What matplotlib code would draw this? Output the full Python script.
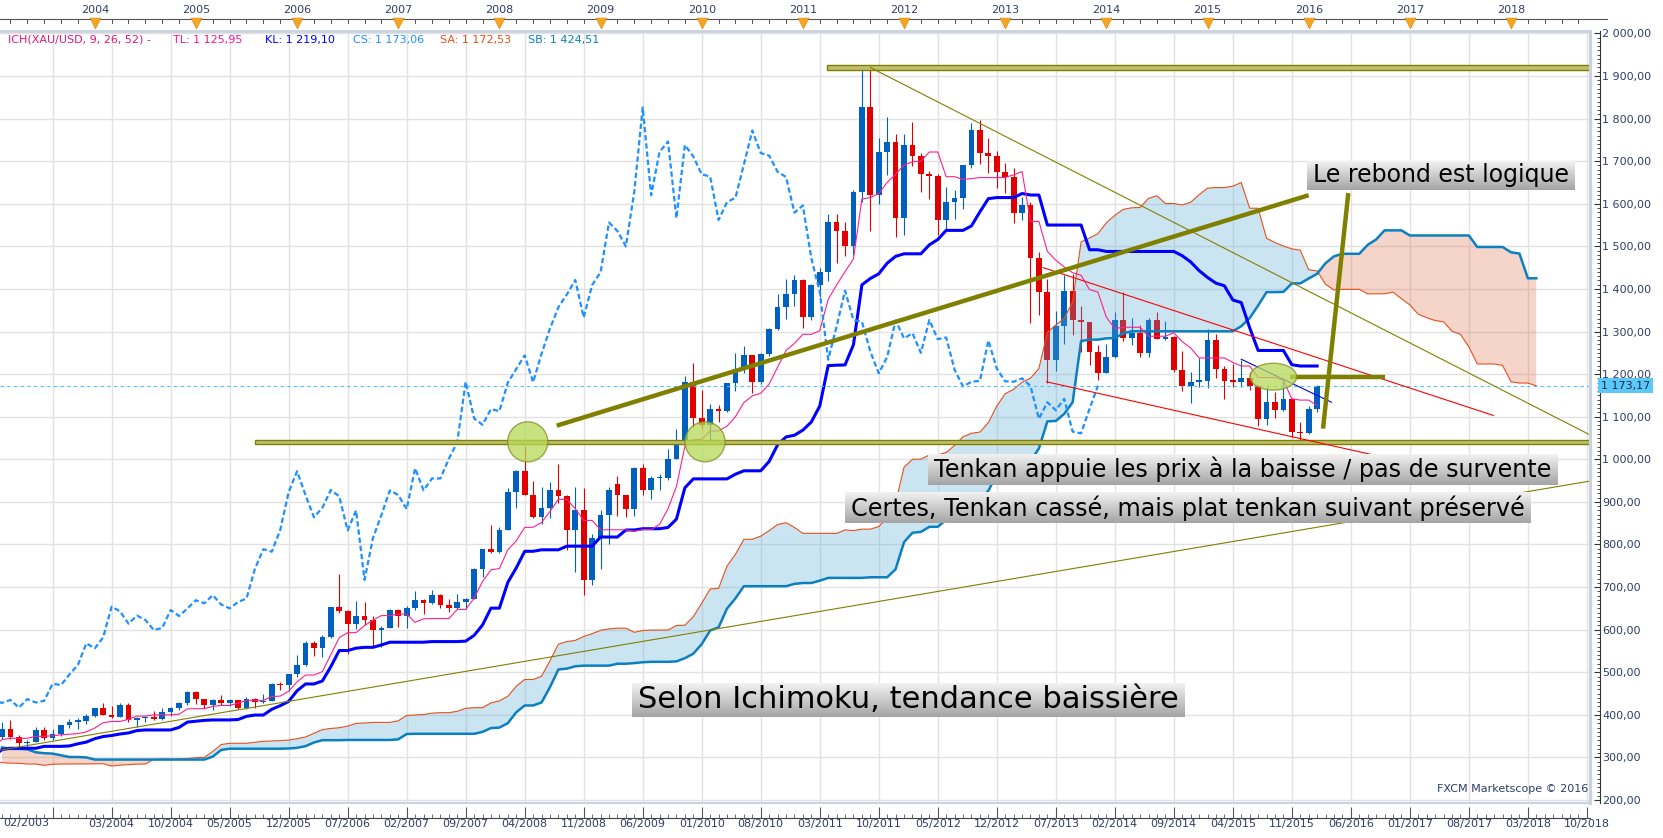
import numpy as np
import matplotlib
matplotlib.use("Agg")
import matplotlib.pyplot as plt
import matplotlib.transforms as mtransforms
from matplotlib.patches import Rectangle, Ellipse
from matplotlib.colors import LinearSegmentedColormap
from matplotlib.ticker import MultipleLocator, FuncFormatter, FixedLocator

# XAU/USD monthly bars as drawn on the chart, one per slot
# (the feed has no bar for 02/2009, so the bars before it sit one slot late)
opens = [347, 367, 347, 334, 336, 364, 346, 354, 375, 384, 386, 398,
         416, 400, 396, 423, 388, 393, 395, 391, 407, 415, 428, 453,
         438, 422, 434, 428, 435, 417, 437, 429, 433, 473, 470, 495,
         517, 568, 556, 582, 654, 643, 614, 633, 623, 599, 604, 646,
         632, 650, 669, 662, 681, 659, 650, 665, 673, 743, 789, 783,
         834, 923, 972, 916, 864, 886, 928, 913, 833, 880, 717, 815,
         869, 942, 916, 883, 979, 927, 955, 955, 1001, 1040, 1182,
         1096, 1081, 1118, 1113, 1180, 1212, 1244, 1181, 1248, 1307, 1357, 1387,
         1421, 1333, 1409, 1439, 1556, 1536, 1500, 1628, 1826, 1620, 1722, 1746,
         1566, 1738, 1711, 1669, 1664, 1562, 1604, 1614, 1692, 1772, 1719, 1713,
         1675, 1663, 1579, 1596, 1472, 1393, 1234, 1312, 1396, 1327, 1323, 1253,
         1202, 1240, 1326, 1284, 1296, 1250, 1327, 1282, 1286, 1210, 1171, 1182,
         1184, 1279, 1213, 1183, 1182, 1190, 1172, 1095, 1134, 1115, 1142, 1065,
         1062, 1118]
highs = [383, 389, 353, 340, 372, 371, 366, 376, 390, 393, 401, 417,
         427, 420, 427, 428, 395, 398, 410, 415, 418, 431, 456, 457,
         438, 437, 447, 438, 436, 443, 439, 448, 475, 477, 497, 541,
         573, 573, 587, 654, 730, 645, 668, 664, 633, 609, 649, 648,
         655, 691, 671, 692, 684, 672, 683, 675, 745, 790, 845, 842,
         933, 975, 1032, 950, 936, 946, 988, 916, 934, 932, 825, 880,
         936, 960, 917, 981, 989, 960, 966, 1025, 1070, 1195, 1227,
         1162, 1129, 1127, 1180, 1249, 1265, 1244, 1250, 1309, 1387, 1424, 1432,
         1424, 1412, 1448, 1575, 1577, 1556, 1632, 1913, 1920, 1755, 1804, 1764,
         1764, 1791, 1720, 1676, 1669, 1640, 1632, 1692, 1790, 1796, 1755, 1723,
         1696, 1684, 1617, 1605, 1487, 1424, 1348, 1433, 1434, 1361, 1323, 1268,
         1270, 1346, 1392, 1331, 1315, 1332, 1345, 1324, 1290, 1255, 1206, 1239,
         1307, 1294, 1219, 1224, 1232, 1206, 1175, 1170, 1157, 1191, 1142, 1088,
         1124, 1175]
lows = [343, 344, 319, 321, 336, 342, 342, 351, 370, 366, 378, 396,
        399, 393, 395, 383, 372, 383, 387, 387, 398, 411, 423, 426,
        416, 411, 424, 420, 414, 414, 416, 428, 432, 458, 456, 489,
        515, 538, 536, 581, 640, 543, 602, 612, 561, 560, 603, 606,
        603, 646, 636, 661, 651, 642, 648, 649, 671, 723, 781, 780,
        834, 886, 915, 862, 849, 862, 898, 786, 736, 681, 705, 743,
        802, 866, 865, 866, 916, 906, 929, 951, 1001, 1033, 1075,
        1072, 1045, 1087, 1112, 1160, 1203, 1155, 1176, 1242, 1304, 1330, 1360,
        1309, 1328, 1380, 1418, 1462, 1477, 1480, 1603, 1535, 1600, 1668, 1523,
        1527, 1689, 1627, 1612, 1527, 1540, 1564, 1588, 1683, 1693, 1672, 1636,
        1625, 1555, 1562, 1321, 1338, 1180, 1208, 1271, 1292, 1251, 1221, 1186,
        1202, 1238, 1277, 1268, 1240, 1240, 1282, 1281, 1205, 1160, 1131, 1170,
        1167, 1190, 1142, 1170, 1170, 1162, 1077, 1081, 1098, 1113, 1052, 1046,
        1060, 1110]
closes = [367, 347, 334, 336, 364, 346, 354, 375, 384, 386, 398, 416,
          400, 396, 423, 388, 393, 395, 391, 407, 415, 428, 453, 438,
          422, 434, 428, 435, 417, 437, 429, 433, 473, 470, 495, 517,
          568, 556, 582, 654, 643, 614, 633, 623, 599, 604, 646, 632,
          650, 669, 662, 681, 659, 650, 665, 673, 743, 789, 783, 834,
          923, 972, 916, 864, 886, 928, 913, 833, 880, 717, 815, 869,
          927, 916, 883, 979, 927, 955, 955, 1001, 1040, 1182, 1096,
          1081, 1118, 1113, 1180, 1212, 1244, 1181, 1248, 1307, 1357, 1387, 1421,
          1333, 1409, 1439, 1556, 1536, 1500, 1628, 1826, 1620, 1722, 1746, 1566,
          1738, 1711, 1669, 1664, 1562, 1604, 1614, 1692, 1772, 1719, 1713, 1675,
          1663, 1579, 1596, 1472, 1393, 1234, 1312, 1396, 1327, 1323, 1253, 1202,
          1240, 1326, 1284, 1296, 1250, 1327, 1282, 1286, 1210, 1171, 1182, 1184,
          1279, 1213, 1183, 1182, 1190, 1172, 1095, 1134, 1115, 1142, 1065, 1061,
          1118, 1173.06]

# earlier bars (08/1996 - 01/2003 slots), off screen, only feed the Ichimoku windows
hist_highs = [395, 388, 388, 386, 372,
              368, 366, 358, 350, 350, 348, 334, 329, 337, 333, 314, 298,
              307, 306, 302, 315, 302, 297, 295, 290, 300, 307, 300, 297,
              293, 292, 290, 290, 290, 270, 263, 260, 310, 338, 303, 294,
              294, 316, 298, 290, 283, 293, 293, 282, 276, 275, 270, 275,
              272, 270, 268, 265, 292, 294, 272, 280, 295, 293, 282, 282,
              285, 300, 304, 310, 328, 330, 325, 316, 327, 325, 323, 352]
hist_lows = [383, 378, 375, 368, 366,
             340, 341, 346, 336, 338, 334, 319, 320, 318, 307, 294, 283,
             278, 293, 289, 300, 290, 284, 285, 273, 277, 288, 290, 285,
             283, 283, 277, 277, 267, 257, 252, 252, 253, 290, 287, 278,
             281, 285, 278, 272, 270, 270, 276, 270, 267, 263, 263, 266,
             262, 255, 255, 254, 264, 265, 263, 264, 271, 275, 271, 271,
             276, 283, 287, 298, 302, 314, 301, 301, 311, 310, 313, 317]

first_slot = -83          # slot = months from 01/2010; first bar sits on 02/2003
last_price = 1173.17
legend_parts = [("ICH(XAU/USD, 9, 26, 52) -", "#e8147a"), ("TL: 1 125,95", "#ff1493"),
                ("KL: 1 219,10", "#0000ff"), ("CS: 1 173,06", "#1e90ff"),
                ("SA: 1 172,53", "#e8501a"), ("SB: 1 424,51", "#0a80c0")]
years = list(range(2004, 2019))


def midpoint(h, l, n):
    out = np.full(len(h), np.nan)
    for i in range(n - 1, len(h)):
        out[i] = (h[i - n + 1:i + 1].max() + l[i - n + 1:i + 1].min()) / 2
    return out


def price_fmt(v, pos=None):
    return f"{v:,.2f}".replace(",", " ").replace(".", ",")


def slot_label(s):
    return "%02d/%d" % (s % 12 + 1, 2010 + s // 12)


H = np.array(hist_highs + highs, dtype=float)
L = np.array(hist_lows + lows, dtype=float)
n_hist = len(hist_highs)
x_all = np.arange(len(H)) - n_hist + first_slot
tenkan = midpoint(H, L, 9)
kijun = midpoint(H, L, 26)
span_a = (tenkan + kijun) / 2
span_b = midpoint(H, L, 52)

o = np.array(opens, float)
c = np.array(closes, float)
hi = np.array(highs, float)
lo = np.array(lows, float)
xv = np.arange(len(o)) + first_slot

# pixel layout of the original: 8.43 px per month, 01/2010 at x=701.7
x_left, x_right = -83.24, 105.37
y_bot, y_top = 193.0, 2005.6

fig = plt.figure(figsize=(16.63, 8.38), dpi=100)
ax = fig.add_axes([0, 35 / 838, 1590 / 1663, 772 / 838])
ax.set_xlim(x_left, x_right)
ax.set_ylim(y_bot, y_top)

# grid
for s in range(-77, 106, 7):
    ax.axvline(s, color="#e2e2e2", lw=1, zorder=0)
for p in range(200, 2001, 100):
    ax.axhline(p, color="#e2e2e2", lw=1, zorder=0)

# candles
up = c >= o
cols = np.where(up, "#0060c0", "#e00000")
ax.vlines(xv, lo, hi, colors=cols, lw=0.8, zorder=2)
body = np.maximum(np.abs(c - o), 3.0)
ax.bar(xv, body, width=0.68, bottom=np.minimum(o, c), color=cols, lw=0, zorder=2)

# cloud (drawn over the candles, semi transparent)
xs = x_all + 26
ax.fill_between(xs, span_a, span_b, where=span_a >= span_b, interpolate=True,
                facecolor="#55a8d4", alpha=0.3, lw=0, zorder=3)
ax.fill_between(xs, span_a, span_b, where=span_a < span_b, interpolate=True,
                facecolor="#de734e", alpha=0.3, lw=0, zorder=3)
ax.plot(xs, span_a, color="#e8501a", lw=0.8, zorder=4)
ax.plot(xs, span_b, color="#0a80c0", lw=1.8, zorder=4)
ax.plot(x_all, kijun, color="#0000ff", lw=2.2, zorder=4)
ax.plot(x_all, tenkan, color="#ff1f8e", lw=0.8, zorder=4)
ax.plot(xv - 26, c, color="#1e90ff", lw=1.6, ls=(0, (2.4, 1.3)), zorder=4)

ax.axhline(last_price, color="#4fc1f0", lw=0.8, ls=(0, (3, 3)), zorder=4.5)

# drawings made on the chart
olive = "#808000"
ax.add_patch(Rectangle((14.9, 1913), 120, 12, facecolor="#bfbf72", edgecolor=olive, lw=1, zorder=5))
ax.add_patch(Rectangle((-53.0, 1035), 200, 10, facecolor="#bfbf72", edgecolor=olive, lw=1, zorder=5))
thin_lines = [(20.0, 1920, 105.4, 1057), (-83.24, 317, 105.4, 949)]
for x0, y0, x1, y1 in thin_lines:
    ax.plot([x0, x1], [y0, y1], color=olive, lw=0.8, zorder=5)
red_lines = [(40.5, 1450, 93.9, 1103), (40.9, 1182, 79.5, 1011)]
for x0, y0, x1, y1 in red_lines:
    ax.plot([x0, x1], [y0, y1], color="#ff0000", lw=0.8, zorder=5)
ax.plot([64.0, 74.7], [1235, 1134], color="#0000ff", lw=0.8, zorder=5)
thick_lines = [(-17.2, 1079, 72.0, 1620), (73.7, 1072, 76.7, 1625), (69.8, 1194, 81.0, 1194)]
for x0, y0, x1, y1 in thick_lines:
    ax.plot([x0, x1], [y0, y1], color=olive, lw=3.2, solid_capstyle="butt", zorder=5.5)
for cx, cy, w, h in [(-20.64, 1041, 4.75, 94), (0.39, 1041, 4.75, 94), (67.8, 1194, 5.54, 63)]:
    ax.add_patch(Ellipse((cx, cy), w, h, facecolor="#b8d957", alpha=0.75,
                         edgecolor="#7f8f1f", lw=1, zorder=6))

# comment boxes
boxes = []
for x, y, s, size in [(72.5, 1667, "Le rebond est logique", 17),
                      (27.6, 976, "Tenkan appuie les prix à la baisse / pas de survente", 17.2),
                      (17.7, 886, "Certes, Tenkan cassé, mais plat tenkan suivant préservé", 17.2),
                      (-7.56, 435, "Selon Ichimoku, tendance baissière", 22.0)]:
    boxes.append(ax.text(x, y, s, fontsize=size, ha="left", va="center", color="black", zorder=8))

# legend line
for (s, col), xp in zip(legend_parts, [8.5, 173, 265, 353, 440, 528]):
    ax.text(xp / 1590, (803 - 39) / 773, s, transform=ax.transAxes, fontsize=8,
            color=col, ha="left", va="center", zorder=9)
ax.text(0.9987, (803 - 789) / 773, "FXCM Marketscope © 2016", transform=ax.transAxes,
        fontsize=8, color="#2e3d6b", ha="right", va="center", zorder=9)

# spines / frame
ax.spines["left"].set_visible(False)
ax.spines["top"].set_color("#c9d2df")
ax.spines["top"].set_linewidth(2)
ax.spines["right"].set_position(("outward", 7))
ax.spines["right"].set_color("#333333")
ax.spines["bottom"].set_position(("outward", 11))
ax.spines["bottom"].set_color("#444444")
ax.plot([1, 1], [0, 1], transform=ax.transAxes, color="#c9d2df", lw=2.2, clip_on=False, zorder=9)
ax.plot([0, 1], [0, 0], transform=ax.transAxes, color="#c9d2df", lw=1.5, clip_on=False, zorder=9)

# price axis
ax.yaxis.tick_right()
ax.yaxis.set_major_locator(MultipleLocator(100))
ax.yaxis.set_minor_locator(MultipleLocator(10))
ax.yaxis.set_major_formatter(FuncFormatter(price_fmt))
ax.tick_params(axis="y", which="major", direction="in", length=4.3, width=0.8, colors="#333333",
               labelcolor="#2e3d6b", labelsize=8, pad=2)
ax.tick_params(axis="y", which="minor", direction="in", length=2.2, width=0.6, colors="#333333")
ax.text(1.0068, last_price, price_fmt(last_price),
        transform=mtransforms.blended_transform_factory(ax.transAxes, ax.transData),
        fontsize=8, color="#1a2850", ha="left", va="center", zorder=10, clip_on=False,
        bbox=dict(boxstyle="square,pad=0.25", facecolor="#5bc8f7", edgecolor="none"))

# date axis
major = list(range(-77, 106, 7))
ax.xaxis.set_major_locator(FixedLocator(major))
ax.xaxis.set_major_formatter(FuncFormatter(lambda v, p: "" if v < -70 else slot_label(int(round(v)))))
ax.xaxis.set_minor_locator(MultipleLocator(1))
ax.tick_params(axis="x", which="major", direction="in", length=7.9, width=0.8, colors="#555555",
               labelcolor="#2e3d6b", labelsize=8, pad=0.6)
ax.tick_params(axis="x", which="minor", direction="in", length=3, width=0.6, colors="#555555")
ax.text(0.002, (803 - 823) / 773, slot_label(first_slot), transform=ax.transAxes, fontsize=8,
        color="#2e3d6b", ha="left", va="center", clip_on=False)

# year strip on top
tx = ax.get_xaxis_transform()
yl = (803 - 18) / 773
ax.plot([x_left, x_right + 2], [yl, yl], transform=tx, color="#555555", lw=0.8, clip_on=False)
for s in range(-84, 106, 2):
    ln = 8 if s % 12 == 0 else 4
    ax.plot([s, s], [yl, yl - ln / 773], transform=tx, color="#555555", lw=0.7, clip_on=False)
yslots = [12 * (yr - 2010) for yr in years]
ax.scatter(yslots, [(803 - 22) / 773] * len(yslots), marker="v", s=60, color="#f5a623",
           edgecolors="#e08a10", linewidths=0.5, transform=tx, clip_on=False, zorder=10)
for yr, s in zip(years, yslots):
    ax.text(s, (803 - 8.5) / 773, str(yr), transform=tx, fontsize=8, color="#2e3d6b",
            ha="center", va="center", clip_on=False)

# gradient behind comment texts
fig.canvas.draw()
rend = fig.canvas.get_renderer()
inv = ax.transData.inverted()
grad = np.linspace(0, 1, 64).reshape(-1, 1)
cmap = LinearSegmentedColormap.from_list("box", ["#f2f2f2", "#a4a4a4"])
for t in boxes:
    bb = t.get_window_extent(rend)
    x0, y0 = inv.transform((bb.x0 - 6, bb.y0 - 2.5))
    x1, y1 = inv.transform((bb.x1 + 6, bb.y1 + 2.5))
    ax.imshow(grad, extent=(x0, x1, y0, y1), aspect="auto", cmap=cmap, origin="upper",
              interpolation="bilinear", zorder=7)
ax.set_xlim(x_left, x_right)
ax.set_ylim(y_bot, y_top)

fig.savefig("out.png", dpi=100)
